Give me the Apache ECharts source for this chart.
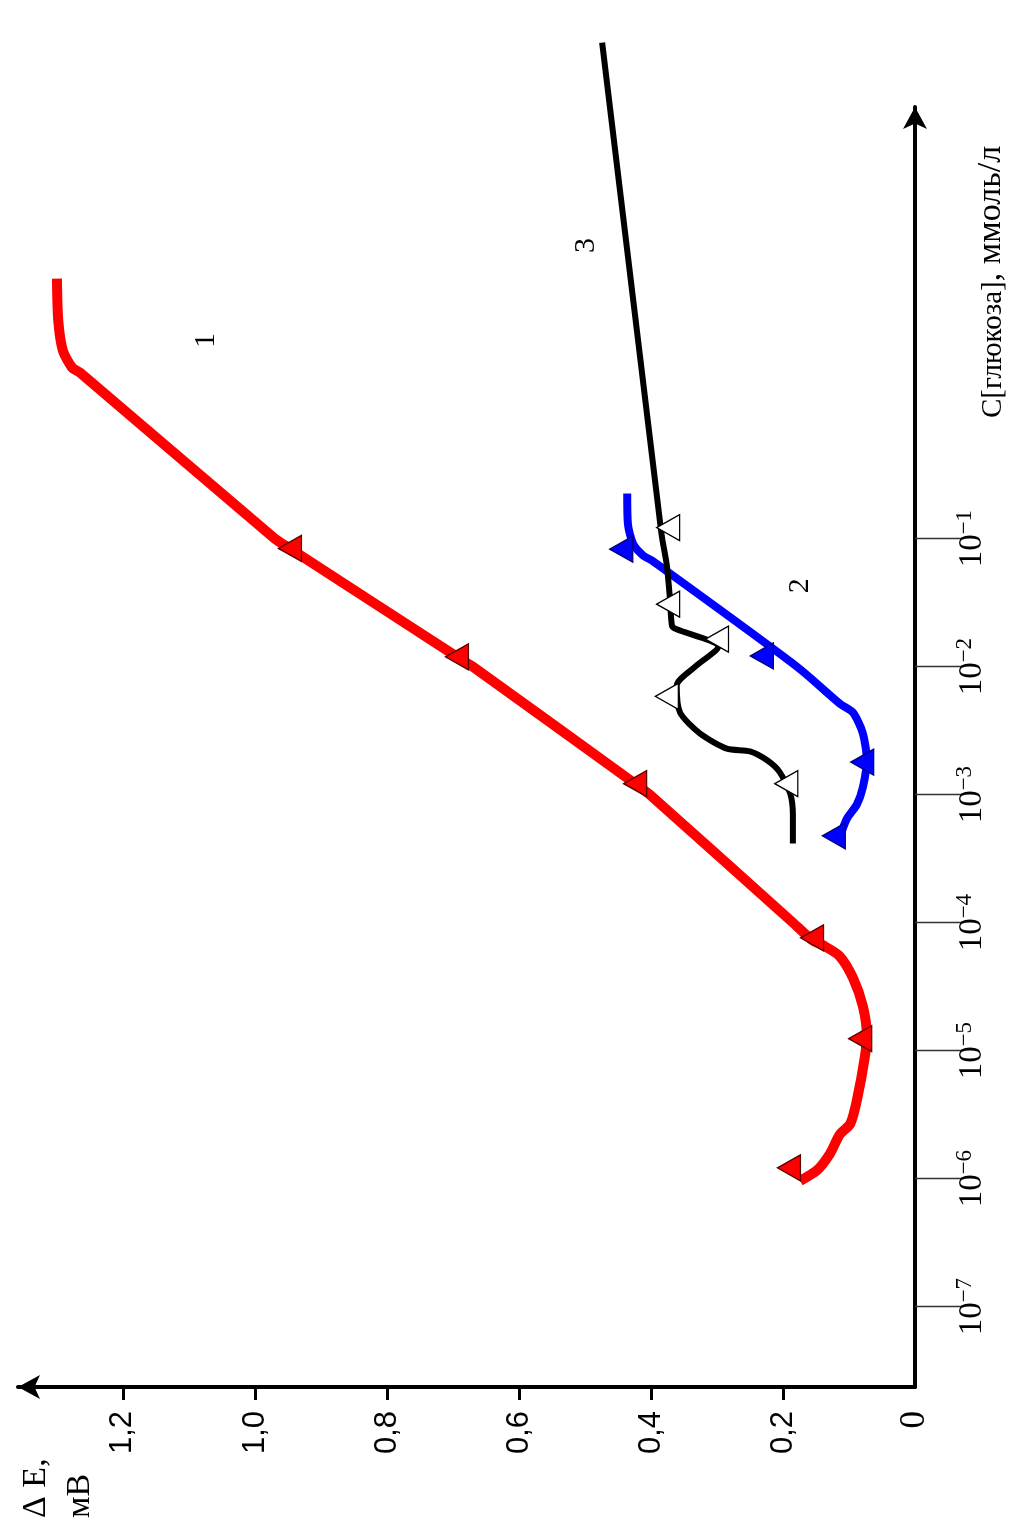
<!DOCTYPE html>
<html>
<head>
<meta charset="utf-8">
<script src="https://cdn.jsdelivr.net/npm/echarts@6/dist/echarts.min.js"></script>
<style>
  html, body { margin: 0; padding: 0; background: #ffffff; }
  #chart { width: 1010px; height: 1530px; }
</style>
</head>
<body>
<div id="chart"></div>
<script>
// ΔE (mV) against lg C[glucose] (mmol/l); the figure is laid out with the
// concentration axis running upward on the right and ΔE growing to the left.

// Axis ticks
const DE_TICKS = [0, 0.2, 0.4, 0.6, 0.8, 1.0, 1.2];
const LG_TICKS = [-7, -6, -5, -4, -3, -2, -1];

// Curve 1 (red): [ΔE, lg C]
const CURVE1 = [
  [1.300, 1.031], [1.298, 0.703], [1.291, 0.469], [1.277, 0.336], [1.265, 0.297],
  [0.970, -1.000], [0.947, -1.077], [0.694, -1.923], [0.670, -2.000],
  [0.424, -2.915], [0.402, -3.000], [0.185, -4.000], [0.156, -4.136],
  [0.139, -4.178], [0.114, -4.263], [0.094, -4.432], [0.079, -4.653],
  [0.073, -4.881], [0.076, -5.050], [0.088, -5.387], [0.098, -5.571],
  [0.114, -5.655], [0.129, -5.807], [0.148, -5.933], [0.174, -6.017]
];
const MARKERS1 = [
  [0.947, -1.077], [0.694, -1.923], [0.424, -2.915],
  [0.156, -4.119], [0.083, -4.907], [0.191, -5.916]
];

// Curve 2 (blue)
const CURVE2 = [
  [0.436, -0.648], [0.435, -0.883], [0.427, -1.042], [0.412, -1.131],
  [0.398, -1.173], [0.179, -2.000], [0.114, -2.289], [0.094, -2.359],
  [0.079, -2.521], [0.073, -2.732], [0.079, -2.944], [0.088, -3.076],
  [0.103, -3.186], [0.111, -3.288]
];
const MARKERS2 = [
  [0.445, -1.083], [0.232, -1.917], [0.080, -2.746], [0.123, -3.322]
];

// Curve 3 (black)
const CURVE3 = [
  [0.474, 2.875], [0.386, -0.883], [0.383, -1.000], [0.376, -1.208],
  [0.371, -1.488], [0.368, -1.685], [0.361, -1.708], [0.298, -1.845],
  [0.333, -2.000], [0.361, -2.148], [0.356, -2.359], [0.326, -2.521],
  [0.285, -2.641], [0.250, -2.662], [0.224, -2.732], [0.205, -2.824],
  [0.189, -2.993], [0.185, -3.161], [0.185, -3.381]
];
const MARKERS3 = [
  [0.374, -0.914], [0.374, -1.512], [0.300, -1.786], [0.376, -2.232], [0.195, -2.915]
];

// Curve numbers: [ΔE, lg C, text]
const CURVE_TAGS = [
  [1.074, 0.547, '1'],
  [0.174, -1.369, '2'],
  [0.498, 1.289, '3']
];

const SERIF = '"Liberation Serif", "DejaVu Serif", serif';
const SANS = '"Liberation Sans", Arial, sans-serif';

const chart = echarts.init(document.getElementById('chart'), null, { renderer: 'canvas' });

function curve(name, data, color, width, z) {
  return {
    name, type: 'line', data, z,
    smooth: 0.25, showSymbol: false, symbol: 'none', clip: false,
    lineStyle: { color, width, cap: 'butt', join: 'round' },
    silent: true
  };
}
function markers(name, data, fill, border, z) {
  return {
    name, type: 'scatter', data, z,
    symbol: 'triangle', symbolRotate: 90, symbolSize: [26, 23], clip: false,
    itemStyle: { color: fill, borderColor: border, borderWidth: 1.3, opacity: 1 },
    silent: true
  };
}

// Axis titles, written upright along the rotated layout
const axisTitles = [
  {
    id: 'de-title', type: 'text', x: 14, y: 1518, rotation: Math.PI / 2, silent: true,
    style: {
      text: 'Δ E,\nмВ', fill: '#000',
      fontFamily: SERIF, fontSize: 34, lineHeight: 44,
      align: 'left', verticalAlign: 'top'
    }
  },
  {
    id: 'c-title', type: 'text', x: 972, y: 418, rotation: Math.PI / 2, silent: true,
    style: {
      text: '{a|C[глюкоза]}{b|, ммоль/л}', fill: '#000',
      align: 'left', verticalAlign: 'top',
      rich: {
        a: { fontFamily: SERIF, fontSize: 29, lineHeight: 36, verticalAlign: 'bottom' },
        b: { fontFamily: SERIF, fontSize: 34, lineHeight: 36, verticalAlign: 'bottom' }
      }
    }
  }
];

chart.setOption({
  animation: false,
  backgroundColor: '#ffffff',
  grid: { left: 18, right: 95, top: 107, bottom: 143, containLabel: false, outerBoundsMode: 'none' },
  xAxis: {
    type: 'value', inverse: true, position: 'bottom',
    min: 0, max: 1.359,
    splitLine: { show: false },
    axisLine: {
      show: true, onZero: false,
      symbol: ['arrow', 'none'], symbolSize: [18, 22],
      lineStyle: { color: '#000', width: 4 }
    },
    axisTick: {
      show: true, inside: false, length: 13,
      customValues: [0.2, 0.4, 0.6, 0.8, 1.0, 1.2],
      lineStyle: { color: '#000', width: 3 }
    },
    axisLabel: {
      show: true, rotate: 90, margin: 24,
      customValues: DE_TICKS,
      formatter: v => v === 0 ? '{o|0}' : '{n|' + v.toFixed(1).replace('.', ',') + '}',
      rich: {
        o: { fontFamily: SERIF, fontSize: 35, color: '#000' },
        n: { fontFamily: SANS, fontSize: 31, color: '#000' }
      }
    }
  },
  yAxis: {
    type: 'value', position: 'right',
    min: -7.628, max: 2.372,
    splitLine: { show: false },
    axisLine: {
      show: true, onZero: false,
      symbol: ['none', 'arrow'], symbolSize: [18, 22],
      lineStyle: { color: '#000', width: 4 }
    },
    axisTick: {
      show: true, inside: false, length: 47,
      customValues: LG_TICKS,
      lineStyle: { color: '#333', width: 1.3 }
    },
    axisLabel: {
      show: true, rotate: 90, margin: 38,
      customValues: LG_TICKS,
      formatter: v => '{b|10}{s|\u2212' + Math.abs(v) + '}',
      rich: {
        b: { fontFamily: SERIF, fontSize: 33, color: '#000', lineHeight: 36, verticalAlign: 'bottom' },
        s: { fontFamily: SERIF, fontSize: 23, color: '#000', lineHeight: 36, verticalAlign: 'top' }
      }
    }
  },
  graphic: axisTitles,
  series: [
    curve('1', CURVE1, '#ff0000', 10, 2),
    curve('2', CURVE2, '#0000ff', 8, 2),
    curve('3', CURVE3, '#000000', 6, 3),
    markers('1', MARKERS1, '#ff0000', '#5a0000', 5),
    markers('2', MARKERS2, '#0000ff', '#00007a', 5),
    markers('3', MARKERS3, '#ffffff', '#000000', 5)
  ]
});

// Curve numbers placed through the grid's own coordinate conversion
const tagTexts = CURVE_TAGS.map(([de, lg, text], i) => {
  const [px, py] = chart.convertToPixel({ gridIndex: 0 }, [de, lg]);
  return {
    id: 'tag' + i, type: 'text', x: px, y: py, rotation: Math.PI / 2, silent: true, z: 10,
    style: {
      text, fill: '#000', fontFamily: SERIF, fontSize: 30,
      align: 'center', verticalAlign: 'middle'
    }
  };
});
chart.setOption({ graphic: axisTitles.concat(tagTexts) });
</script>
</body>
</html>
